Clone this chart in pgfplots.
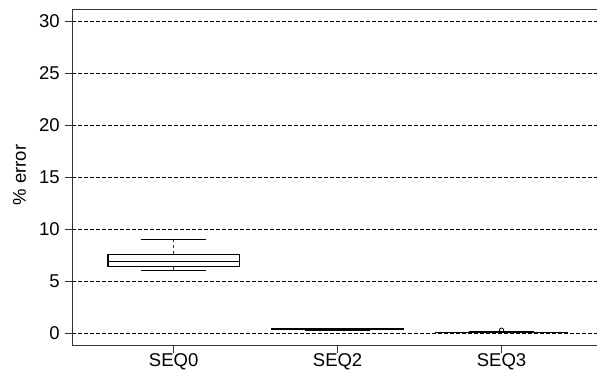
\documentclass[border=0pt]{standalone}
\usepackage{pgfplots}
\pgfplotsset{compat=1.18}
\usepgfplotslibrary{statistics}
\usepackage{fontspec}
\setmainfont{Liberation Sans}
\begin{document}
\begin{tikzpicture}
\begin{axis}[
  at={(72.3bp,25.3bp)}, anchor=south west,
  scale only axis,
  width=535bp, height=336.7bp,
  xmin=0.382, xmax=3.645,
  ymin=-1.19, ymax=31.15,
  axis x line*=box, axis y line*=left,
  axis line style={black!80, line width=0.9bp},
  xtick={1,2,3}, xticklabels={SEQ0,SEQ2,SEQ3},
  ytick={0,5,10,15,20,25,30},
  tick align=outside, xtick pos=bottom, ytick pos=left,
  major tick length=7bp,
  tick style={black!80, line width=0.9bp},
  /pgf/number format/assume math mode=true,
  tick label style={font=\fontsize{18.5bp}{22bp}\selectfont},
  yticklabel style={xshift=-2bp},
  xticklabel style={yshift=2.5bp},
  ylabel={\% error},
  every axis y label/.style={at={(axis description cs:-0.0987,0.507)}, rotate=90, anchor=center, font=\fontsize{18.5bp}{22bp}\selectfont},
  ymajorgrids,
  major grid style={black, line width=0.6bp, dash pattern=on 3.5bp off 2.5bp},
  boxplot/draw direction=y,
  boxplot/box extend=0.8,
  boxplot/whisker extend=0.4,
  boxplot/draw/lower whisker/.code={%
    \draw[black!80, line width=1bp, dash pattern=on 3bp off 3bp]
      (boxplot box cs:\pgfplotsboxplotvalue{lower whisker},0.5) --
      (boxplot box cs:\pgfplotsboxplotvalue{lower quartile},0.5);
    \draw[black, line width=1.2bp]
      (boxplot whisker cs:\pgfplotsboxplotvalue{lower whisker},0) --
      (boxplot whisker cs:\pgfplotsboxplotvalue{lower whisker},1);
  },
  boxplot/draw/upper whisker/.code={%
    \draw[black!80, line width=1bp, dash pattern=on 3bp off 3bp]
      (boxplot box cs:\pgfplotsboxplotvalue{upper whisker},0.5) --
      (boxplot box cs:\pgfplotsboxplotvalue{upper quartile},0.5);
    \draw[black, line width=1.2bp]
      (boxplot whisker cs:\pgfplotsboxplotvalue{upper whisker},0) --
      (boxplot whisker cs:\pgfplotsboxplotvalue{upper whisker},1);
  },
]
\addplot[black, line width=1.1bp, boxplot prepared={draw position=1,
  lower whisker=6.06, lower quartile=6.44, median=6.86, upper quartile=7.6, upper whisker=9.04}]
  coordinates {};
\addplot[black, line width=1.1bp, boxplot prepared={draw position=2,
  lower whisker=0.28, lower quartile=0.33, median=0.37, upper quartile=0.41, upper whisker=0.47}]
  coordinates {};
\addplot[black, line width=1.1bp, mark=o, mark size=2.2bp, mark options={line width=0.8bp},
  boxplot prepared={draw position=3,
  lower whisker=0.05, lower quartile=0.08, median=0.1, upper quartile=0.12, upper whisker=0.15}]
  table[row sep=\\, y index=0] {0.3\\};
\end{axis}
\pgfresetboundingbox
\path (0,0) rectangle (597bp,371bp);
\end{tikzpicture}
\end{document}
